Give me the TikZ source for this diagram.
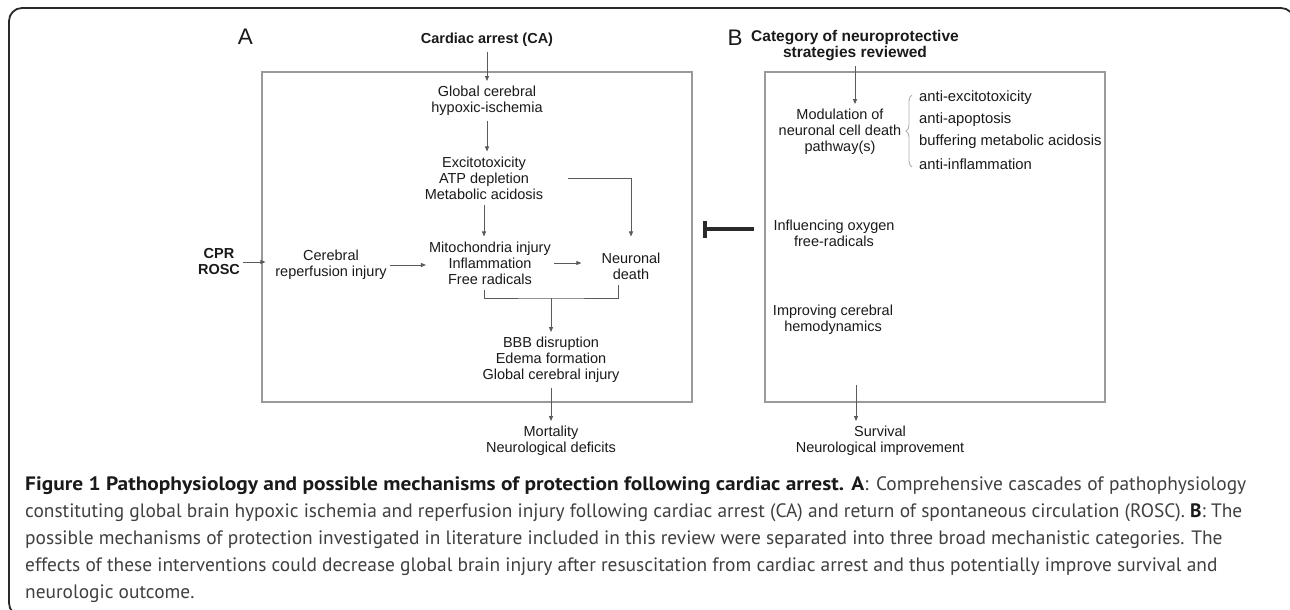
\documentclass[tikz,border=0pt]{standalone}
\usepackage{fontspec}
\setmainfont{Liberation Sans}
\newfontfamily\capfont{PT Sans}
\usetikzlibrary{arrows.meta,decorations.pathreplacing,calc}
\definecolor{boxgray}{HTML}{9A9A9A}
\definecolor{linegray}{HTML}{5A5A5A}
\definecolor{txt}{HTML}{1A1A1A}
\definecolor{capgray}{HTML}{404040}
\definecolor{framec}{HTML}{2A2A2A}
\definecolor{bracec}{HTML}{B0B0B0}
\newcommand{\capbold}[1]{{\bfseries\color{txt}#1}}
\begin{document}
\begin{tikzpicture}[x=1pt,y=-1pt,
  lbl/.style={font=\fontsize{14.5}{16}\selectfont, align=center, inner xsep=3pt, inner ysep=5pt, text=txt},
  blbl/.style={font=\fontsize{14.5}{16}\selectfont\bfseries, align=center, inner xsep=3pt, inner ysep=5pt, text=txt},
  panellbl/.style={font=\fontsize{22.5}{24}\selectfont, inner sep=0pt, text=txt},
  itemlbl/.style={font=\fontsize{14.8}{16}\selectfont, anchor=west, inner sep=1pt, text=txt},
  panel/.style={draw=boxgray, line width=1.1pt, inner sep=0pt},
  arr/.style={draw=linegray, line width=0.8pt, -{Triangle[length=5pt,width=4pt]}},
  ln/.style={draw=linegray, line width=0.8pt},
  inhibit/.style={draw=framec, line width=3.5pt, -{Bar[width=17pt]}},
  captxt/.style={font=\capfont\fontsize{19.4}{27}\selectfont, anchor=base west, inner sep=0pt, text=capgray},
]
\useasboundingbox (0,0) rectangle (1290,610);
\clip (0,0) rectangle (1290,610);
\fill[white] (0,0) rectangle (1290,610);
\draw[framec, line width=1.8pt, rounded corners=13pt] (9,8) rectangle (1294,616);

% panel boxes
\node[panel, minimum width=430pt, minimum height=330pt] (boxA) at (477,237) {};
\node[panel, minimum width=340pt, minimum height=330pt] (boxB) at (935,237) {};

% panel letters
\node[panellbl] (lA) at (245.5,37) {A};
\node[panellbl] (lB) at (735,37.5) {B};

% panel A
\node[blbl] (ca) at (487,40) {Cardiac arrest (CA)};
\node[lbl] (gch) at (487,101) {Global cerebral\\hypoxic-ischemia};
\node[lbl] (exc) at (484,178) {Excitotoxicity\\ATP depletion\\Metabolic acidosis};
\node[lbl] (mito) at (490,263) {Mitochondria injury\\Inflammation\\Free radicals};
\node[lbl] (nd) at (631,266) {Neuronal\\death};
\node[lbl] (cer) at (331,265) {Cerebral\\reperfusion injury};
\node[blbl] (cpr) at (219,262) {CPR\\ROSC};
\node[lbl] (bbb) at (551,360) {BBB disruption\\Edema formation\\Global cerebral injury};
\node[lbl] (mort) at (551,441) {Mortality\\Neurological deficits};
\coordinate (join) at (551,298);

\draw[arr] (ca) -- (gch);
\draw[arr] (gch.south) -- (gch.south |- exc.north);
\draw[arr] (exc.south) -- (exc.south |- mito.north);
\draw[arr, shorten >=11pt] ([xshift=22pt]exc.east) -| (nd);
\draw[arr, shorten >=-4pt] (cpr.east) -- (cpr.east -| boxA.west);
\draw[arr] (cer.east) -- (cer.east -| mito.west);
\draw[arr, shorten >=17pt] (mito.east) -- (mito.east -| nd.west);
\draw[ln] ([xshift=-6pt]mito.south) |- (join) -| ([xshift=-13pt]nd.south);
\draw[arr] (join) -- (join |- bbb.north);
\draw[arr] (bbb.south) -- (bbb.south |- mort.north);

% panel B
\node[blbl, font=\fontsize{15.5}{16}\selectfont\bfseries] (catB) at (855,46) {Category of neuroprotective\\strategies reviewed};
\node[lbl] (modB) at (840,132) {Modulation of\\neuronal cell death\\pathway(s)};
\node[itemlbl] (it1) at (918,98) {anti-excitotoxicity};
\node[itemlbl] (it2) at (918,120) {anti-apoptosis};
\node[itemlbl] (it3) at (918,142) {buffering metabolic acidosis};
\node[itemlbl] (it4) at (918,164) {anti-inflammation};
\node[lbl] (inf) at (834,233) {Influencing oxygen\\free-radicals};
\node[lbl] (imp) at (833,320) {Improving cerebral\\hemodynamics};
\node[lbl] (surv) at (880,441) {Survival\\Neurological improvement};
\coordinate (bOut) at (856,385);
\coordinate (braceLo) at (912,167);
\coordinate (braceHi) at (912,95);

\draw[arr] (catB.south) -- (catB.south |- modB.north);
\draw[bracec, line width=0.9pt, decorate, decoration={brace, amplitude=6pt}] (braceLo) -- (braceHi);
\draw[arr] (bOut) -- (bOut |- surv.north);

% inhibition bar
\coordinate (tS) at (754,229);
\coordinate (tE) at (703,229);
\draw[inhibit] (tS) -- (tE);

% caption
\node[captxt] (c1) at (25,490) {\resizebox{839pt}{\height}{\capbold{Figure 1 Pathophysiology and possible mechanisms of protection following cardiac arrest. A}}\makebox[382pt][s]{: Comprehensive cascades of pathophysiology}};
\node[captxt] (c2) at (25,517) {constituting global brain hypoxic ischemia and reperfusion injury following cardiac arrest (CA) and return of spontaneous circulation (ROSC). \capbold{B}: The};
\node[captxt] (c3) at (25,544) {possible mechanisms of protection investigated in literature included in this review were separated into three broad mechanistic categories. The};
\node[captxt] (c4) at (25,571) {effects of these interventions could decrease global brain injury after resuscitation from cardiac arrest and thus potentially improve survival and};
\node[captxt] (c5) at (25,598) {neurologic outcome.};
\end{tikzpicture}
\end{document}
